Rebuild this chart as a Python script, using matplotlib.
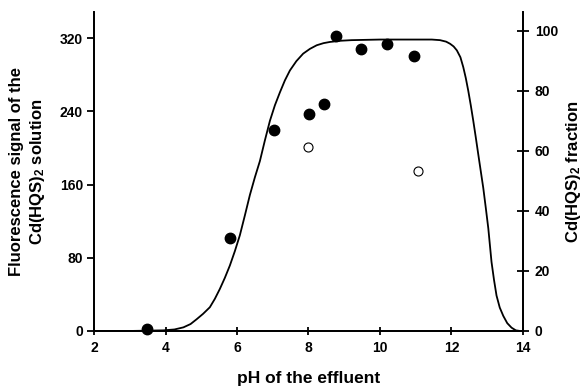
import matplotlib.pyplot as plt

plt.rcParams['font.family'] = ['Liberation Sans', 'DejaVu Sans']
plt.rcParams['font.weight'] = 'bold'
plt.rcParams['mathtext.fontset'] = 'custom'
plt.rcParams['mathtext.rm'] = 'Liberation Sans:bold'
plt.rcParams['mathtext.it'] = 'Liberation Sans:bold'
plt.rcParams['mathtext.bf'] = 'Liberation Sans:bold'

# measured fluorescence signal (filled) and repeat runs (open)
ph_filled = [3.47, 5.80, 7.04, 8.01, 8.44, 8.78, 9.48, 10.19, 10.94]
sig_filled = [2, 102, 220, 237, 248, 322, 308, 314, 301]
ph_open = [7.99, 11.07]
sig_open = [201, 175]

# calculated Cd(HQS)2 fraction curve
ph_curve = [2.0, 3.0, 3.94, 4.25, 4.50, 4.70, 4.87, 5.05, 5.24, 5.38, 5.52, 5.66,
            5.80, 5.94, 6.08, 6.22, 6.36, 6.50, 6.64, 6.78, 6.92, 7.06, 7.20,
            7.34, 7.48, 7.66, 7.85, 8.04, 8.23, 8.42, 8.60, 8.90, 9.20, 10.0,
            11.12, 11.45, 11.68, 11.85, 11.96, 12.06, 12.15, 12.25, 12.33, 12.40,
            12.47, 12.54, 12.61, 12.68, 12.75, 12.82, 12.89, 12.96, 13.03, 13.12,
            13.19, 13.26, 13.35, 13.45, 13.56, 13.68, 13.80, 13.92]
frac_curve = [0, 0, 0.2, 0.5, 1.2, 2.3, 3.9, 5.7, 7.9, 10.7, 14.0, 17.7,
              21.8, 26.6, 31.9, 38.5, 45.3, 51.2, 56.6, 63.5, 70.0, 75.2, 79.5,
              83.5, 86.8, 89.9, 92.4, 94.0, 95.2, 95.9, 96.3, 96.7, 96.9, 97.1,
              97.1, 97.1, 96.9, 96.4, 95.7, 94.8, 93.5, 91.2, 87.9, 84.3,
              80.0, 75.2, 70.0, 64.5, 58.8, 53.2, 47.6, 41.0, 34.2, 23.0,
              17.0, 11.8, 7.8, 5.0, 2.6, 1.1, 0.2, 0]

fig = plt.figure(figsize=(5.84, 3.88), dpi=100)
ax = fig.add_axes([0.161, 0.147, 0.7345, 0.823])
ax2 = ax.twinx()

ax2.plot(ph_curve, frac_curve, color='black', linewidth=1.3)
ax.plot(ph_filled, sig_filled, 'o', color='black', markersize=7.5, clip_on=False, zorder=5)
ax.plot(ph_open, sig_open, 'o', markerfacecolor='white', markeredgecolor='black',
        markeredgewidth=0.8, markersize=6.5, zorder=5)

ax.set_xlim(2, 14)
ax.set_ylim(0, 349)
ax2.set_ylim(0, 106.4)
ax.set_xticks([2, 4, 6, 8, 10, 12, 14])
ax.set_yticks([0, 80, 160, 240, 320])
ax2.set_yticks([0, 20, 40, 60, 80, 100])

for a in (ax, ax2):
    a.spines['top'].set_visible(False)
    for s in a.spines.values():
        s.set_linewidth(1.3)
ax.set_zorder(ax2.get_zorder() + 1)
ax.patch.set_visible(False)

ax.tick_params(axis='y', direction='out', length=5, width=1.3, labelsize=10, pad=3)
ax.tick_params(axis='x', direction='inout', length=6, width=1.3, labelsize=10, pad=4)
ax2.tick_params(axis='y', direction='inout', length=9, width=1.3, labelsize=10, pad=4)

ax.set_xlabel('pH of the effluent', fontsize=12.5, fontweight='bold', labelpad=12)
ax.set_ylabel('Fluorescence signal of the\nCd(HQS)$_2$ solution', fontsize=12,
              fontweight='bold', labelpad=9, linespacing=1.3)
ax2.set_ylabel('Cd(HQS)$_2$ fraction', fontsize=12, fontweight='bold', labelpad=4)

fig.savefig('out.png', dpi=100)
